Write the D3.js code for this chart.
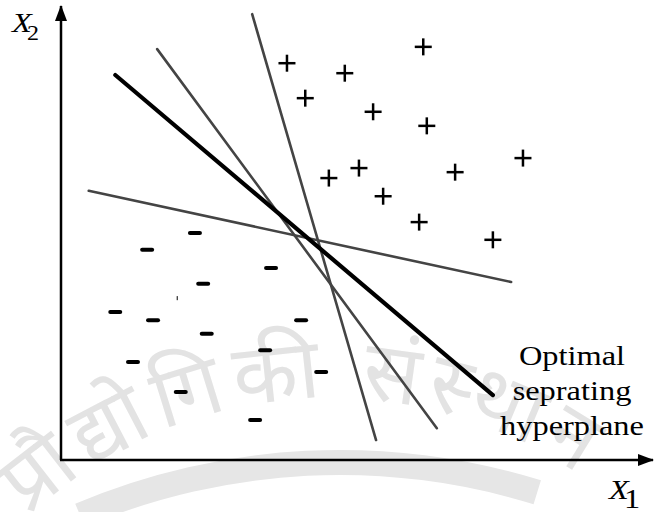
<!DOCTYPE html>
<html>
<head>
<meta charset="utf-8">
<script src="https://cdn.jsdelivr.net/npm/d3@7"></script>
<style>
  html, body { margin: 0; padding: 0; background: #fff; }
  svg { display: block; }
</style>
</head>
<body>
<svg id="chart" width="654" height="512"></svg>
<script>
// Feature space (x1, x2), both axes in arbitrary units 0..100
const positiveX = [38.3, 48.1, 61.4, 41.4, 52.9, 62.0, 50.5, 45.4, 66.8, 78.3, 54.6, 60.7, 73.2];
const positiveY = [87.4, 85.2, 91.0, 79.7, 76.7, 73.6, 64.3, 62.1, 63.4, 66.5, 58.1, 52.4, 48.5];

const negativeX = [22.7, 14.6, 35.6, 24.1, 9.2, 15.6, 40.7, 24.7, 34.6, 12.2, 44.1, 20.3, 32.9];
const negativeY = [50.0, 46.3, 42.3, 38.8, 32.6, 30.8, 30.8, 27.8, 24.2, 21.6, 19.4, 15.0, 8.8];

// Candidate separating lines: [x1 start, x2 start, x1 end, x2 end]
const hyperplaneNames = ["optimal", "steep", "middle", "shallow"];
const hyperplaneSegments = [
  [9.2, 84.8, 73.2, 14.3],
  [32.4, 98.2, 53.4, 4.4],
  [16.3, 90.5, 63.7, 7.0],
  [4.7, 59.3, 76.3, 39.2]
];

const annotationLines = ["Optimal", "seprating", "hyperplane"];
const watermarkText = "प्रौद्योगिकी संस्थान";

const svg = d3.select("#chart");

const x = d3.scaleLinear().domain([0, 100]).range([61, 651]);
const y = d3.scaleLinear().domain([0, 100]).range([460, 6]);

// faint institute watermark behind the figure
const wm = svg.append("g").attr("class", "watermark");
wm.append("path")
  .attr("d", d3.arc()({ innerRadius: 655, outerRadius: 680, startAngle: -0.40, endAngle: 0.3 }))
  .attr("transform", "translate(340,1130)")
  .attr("fill", "#e6e6e6");
const wmPath = d3.path();
wmPath.arc(330, 841, 443, Math.PI * 1.12, Math.PI * 1.98);
wm.append("path")
  .attr("id", "wmArc")
  .attr("d", wmPath.toString())
  .attr("fill", "none");
wm.append("text")
  .attr("font-family", "'Noto Sans', 'DejaVu Sans', sans-serif")
  .attr("font-size", 84)
  .attr("letter-spacing", 8)
  .attr("fill", "#e3e3e3")
  .append("textPath")
  .attr("href", "#wmArc")
  .attr("startOffset", 197)
  .text(watermarkText);

// axes with arrowheads
const defs = svg.append("defs");
defs.append("marker")
  .attr("id", "arrow")
  .attr("viewBox", "0 0 16 12")
  .attr("refX", 15).attr("refY", 6)
  .attr("markerWidth", 16).attr("markerHeight", 12)
  .attr("markerUnits", "userSpaceOnUse")
  .attr("orient", "auto")
  .append("path")
  .attr("d", "M0,0 L16,6 L0,12 Z")
  .attr("fill", "#000");

svg.append("line")
  .attr("x1", x(0)).attr("y1", y(0))
  .attr("x2", x(0)).attr("y2", y(100))
  .attr("stroke", "#000").attr("stroke-width", 2.5)
  .attr("marker-end", "url(#arrow)");
svg.append("line")
  .attr("x1", x(0) - 1).attr("y1", y(0))
  .attr("x2", x(100) + 2).attr("y2", y(0))
  .attr("stroke", "#000").attr("stroke-width", 2.5)
  .attr("marker-end", "url(#arrow)");

// text is set in a serif face, slightly widened
const labelFont = "'Liberation Serif', 'Times New Roman', serif";
const widen = "scale(1.2,1)";

const x2Label = svg.append("text")
  .attr("transform", `translate(12,32) ${widen}`)
  .attr("font-family", labelFont).attr("font-size", 27);
x2Label.append("tspan").attr("font-style", "italic").text("X");
x2Label.append("tspan").attr("dx", -4).attr("dy", 8).attr("font-size", 20).text("2");

const x1Label = svg.append("text")
  .attr("transform", `translate(609,499) ${widen}`)
  .attr("font-family", labelFont).attr("font-size", 27);
x1Label.append("tspan").attr("font-style", "italic").text("X");
x1Label.append("tspan").attr("dx", -4).attr("dy", 9).attr("font-size", 27).text("1");

// candidate hyperplanes
const segs = hyperplaneSegments.map((s, i) => ({ name: hyperplaneNames[i], s }));
svg.append("g").selectAll("line")
  .data(segs)
  .join("line")
  .attr("x1", d => x(d.s[0])).attr("y1", d => y(d.s[1]))
  .attr("x2", d => x(d.s[2])).attr("y2", d => y(d.s[3]))
  .attr("stroke", d => d.name === "optimal" ? "#000" : "#444")
  .attr("stroke-width", d => d.name === "optimal" ? 4.2 : 2.6)
  .attr("stroke-linecap", "round")
  .sort((a, b) => (a.name === "optimal") - (b.name === "optimal"));

// positive class: plus markers
const plusArm = 8.5;
const plus = svg.append("g").attr("stroke", "#000").attr("stroke-width", 2.5)
  .selectAll("g")
  .data(positiveX.map((v, i) => [v, positiveY[i]]))
  .join("g")
  .attr("transform", d => `translate(${x(d[0])},${y(d[1])})`);
plus.append("line").attr("x1", -plusArm).attr("x2", plusArm).attr("y1", 0).attr("y2", 0);
plus.append("line").attr("y1", -plusArm).attr("y2", plusArm).attr("x1", 0).attr("x2", 0);

// negative class: minus markers
svg.append("g").attr("stroke", "#000").attr("stroke-width", 4).attr("stroke-linecap", "round")
  .selectAll("line")
  .data(negativeX.map((v, i) => [v, negativeY[i]]))
  .join("line")
  .attr("x1", d => x(d[0]) - 5).attr("x2", d => x(d[0]) + 5)
  .attr("y1", d => y(d[1])).attr("y2", d => y(d[1]));

// stray tick in the negative region
svg.append("line")
  .attr("x1", x(19.7)).attr("x2", x(19.7))
  .attr("y1", y(36.1)).attr("y2", y(35.2))
  .attr("stroke", "#000").attr("stroke-width", 1);

// annotation for the optimal hyperplane
svg.append("g")
  .selectAll("text")
  .data(annotationLines)
  .join("text")
  .attr("transform", (d, i) => `translate(572,${365 + i * 35}) ${widen}`)
  .attr("font-family", labelFont).attr("font-size", 27)
  .attr("text-anchor", "middle")
  .text(d => d);
</script>
</body>
</html>
